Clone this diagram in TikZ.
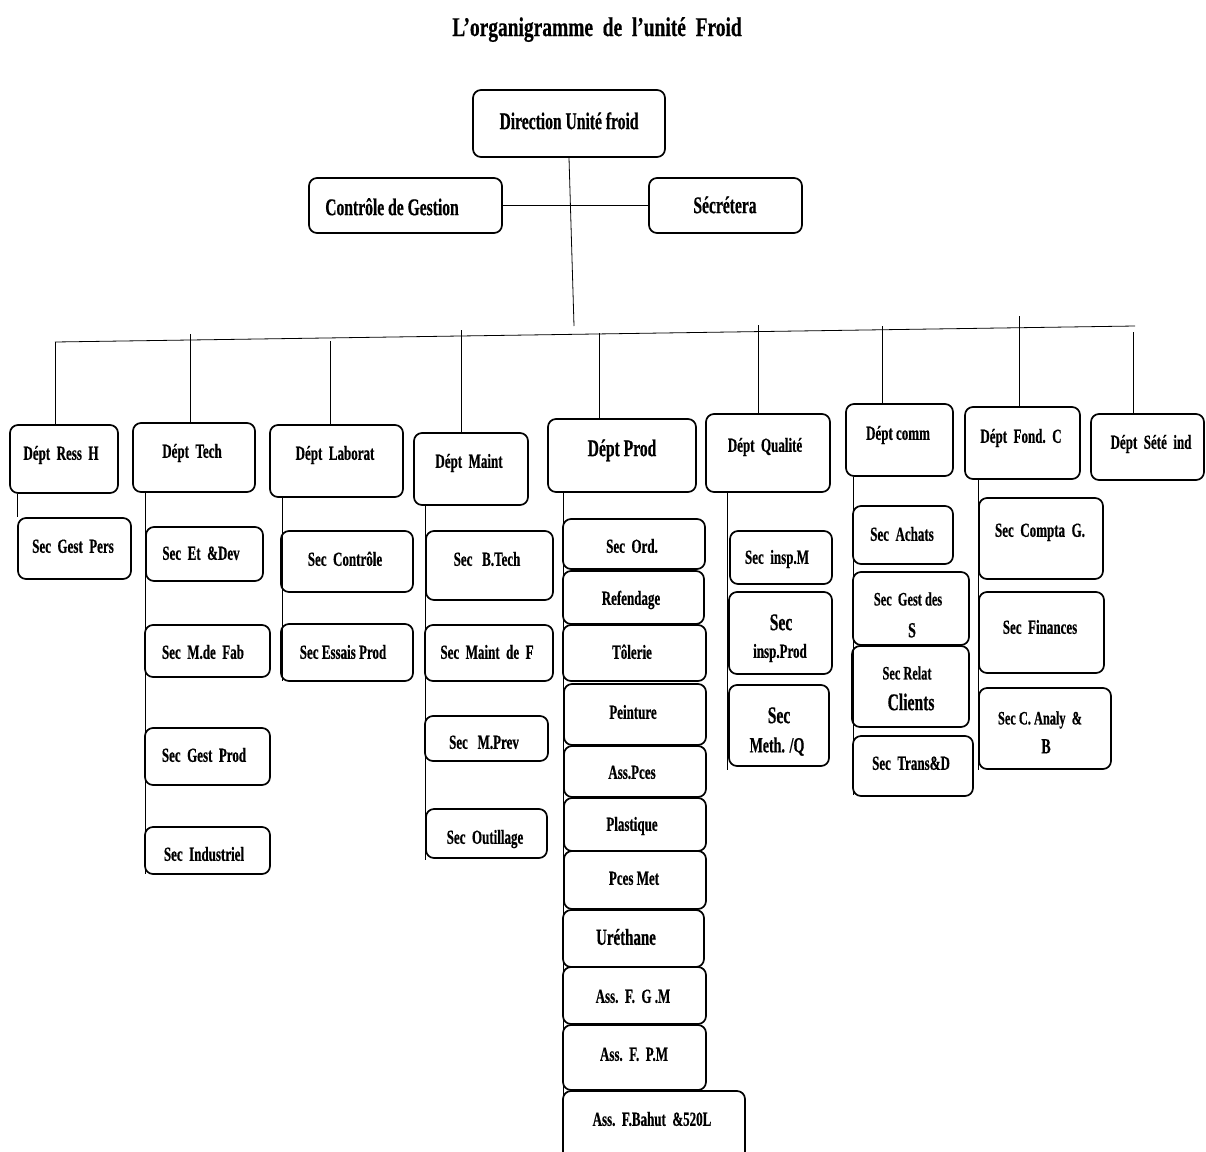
\documentclass[tikz,border=0pt]{standalone}
\usepackage{fontspec}
\newfontfamily\tnr[FakeStretch=0.65,BoldFeatures={FakeBold=0.5}]{Liberation Serif}
\newfontfamily\tnrT[FakeStretch=0.72,BoldFeatures={FakeBold=0.5}]{Liberation Serif}
% box from (x1,y1) to (x2,y2), pixel coordinates, y downwards
\newcommand\obox[5]{\node[obx,minimum width={(#4)-(#2)},minimum height={(#5)-(#3)}] (#1) at ({((#2)+(#4))/2},{((#3)+(#5))/2}) {};}
% label: [size]{name}{x}{y}{text}
\newcommand\olbl[5][20]{\node[lbl,font=\tnr\bfseries\fontsize{#1}{#1}\selectfont] (#2) at (#3,{(#4)+0.34*(#1)}) {#5};}
\begin{document}
\begin{tikzpicture}[x=1pt,y=-1pt,
  obx/.style={draw,line width=1.7pt,rounded corners=8pt,inner sep=0pt},
  lbl/.style={inner sep=0pt,anchor=base},
  link/.style={line width=0.8pt}]
\useasboundingbox[fill=white] (0,0) rectangle (1206,1151);

% title
\node[lbl,font=\tnrT\bfseries\fontsize{27}{27}\selectfont] (title) at (597,36) {L’organigramme\ \ de\ \ l’unité\ \ Froid};

% top level
\obox{dir}{473}{90}{665}{157} \olbl[24]{dir-t}{569}{121}{Direction Unité froid}
\obox{cg}{309}{178}{502}{233} \olbl[24]{cg-t}{392}{207}{Contrôle de Gestion}
\obox{sec}{649}{178}{802}{233} \olbl[24]{sec-t}{725}{205}{Sécrétera}

\draw[link] (cg.east) -- (sec.west);
\coordinate (hub) at (574,326);
\draw[link] (dir.south) -- (hub);
\coordinate (busL) at (55,342);
\coordinate (busR) at (1135,326);
\draw[link] (busL) -- (busR);

% departments
\obox{rh}{10}{425}{118}{493} \olbl{rh-t}{61}{453}{Dépt\ \ Ress\ \ H}
\obox{tech}{133}{423}{255}{492} \olbl{tech-t}{192}{451}{Dépt\ \ Tech}
\obox{lab}{270}{425}{403}{497} \olbl{lab-t}{335}{453}{Dépt\ \ Laborat}
\obox{mnt}{414}{433}{528}{505} \olbl{mnt-t}{469}{461}{Dépt\ \ Maint}
\obox{prod}{548}{419}{696}{492} \olbl[24]{prod-t}{622}{448}{Dépt Prod}
\obox{qual}{706}{414}{830}{492} \olbl{qual-t}{765}{445}{Dépt\ \ Qualité}
\obox{comm}{846}{404}{953}{476} \olbl{comm-t}{898}{433}{Dépt\ comm}
\obox{fond}{965}{407}{1080}{479} \olbl{fond-t}{1021}{436}{Dépt\ \ Fond.\ \ C}
\obox{sete}{1091}{414}{1204}{480} \olbl{sete-t}{1151}{442}{Dépt\ \ Sété\ \ ind}

% drops from the bus
\coordinate (d2) at (190,334);
\coordinate (d3) at (330,341);
\coordinate (d4) at (461,330);
\coordinate (d5) at (599,333);
\coordinate (d6) at (758,325);
\coordinate (d7) at (882,326);
\coordinate (d8) at (1019,316);
\coordinate (d9) at (1133,332);
\draw[link] (busL) -- (busL |- rh.north);
\draw[link] (d2) -- (d2 |- tech.north);
\draw[link] (d3) -- (d3 |- lab.north);
\draw[link] (d4) -- (d4 |- mnt.north);
\draw[link] (d5) -- (d5 |- prod.north);
\draw[link] (d6) -- (d6 |- qual.north);
\draw[link] (d7) -- (d7 |- comm.north);
\draw[link] (d8) -- (d8 |- fond.north);
\draw[link] (d9) -- (d9 |- sete.north);

% Ress H
\obox{gp}{18}{518}{131}{579} \olbl{gp-t}{73}{546}{Sec\ \ Gest\ \ Pers}
\draw[link] (gp.north west |- rh.south) -- (gp.north west);

% Tech
\obox{t1}{146}{527}{263}{581} \olbl{t1-t}{201}{553}{Sec\ \ Et\ \ \&Dev}
\obox{t2}{145}{625}{270}{677} \olbl{t2-t}{203}{652}{Sec\ \ M.de\ \ Fab}
\obox{t3}{145}{728}{270}{785} \olbl{t3-t}{204}{755}{Sec\ \ Gest\ \ Prod}
\obox{t4}{145}{827}{270}{874} \olbl{t4-t}{204}{854}{Sec\ \ Industriel}
\coordinate (tech-end) at (145,874);
\draw[link] (tech-end |- tech.south) -- (tech-end);

% Laborat
\obox{l1}{281}{531}{413}{592} \olbl{l1-t}{345}{559}{Sec\ \ Contrôle}
\obox{l2}{281}{624}{413}{681} \olbl{l2-t}{343}{652}{Sec Essais Prod}
\coordinate (lab-end) at (282,681);
\draw[link] (lab-end |- lab.south) -- (lab-end);

% Maint
\obox{m1}{426}{531}{553}{600} \olbl{m1-t}{487}{559}{Sec\ \ \ B.Tech}
\obox{m2}{425}{625}{553}{681} \olbl{m2-t}{487}{652}{Sec\ \ Maint\ \ de\ \ F}
\obox{m3}{425}{716}{548}{761} \olbl{m3-t}{484}{742}{Sec\ \ \ M.Prev}
\obox{m4}{426}{809}{547}{858} \olbl{m4-t}{485}{837}{Sec\ \ Outillage}
\coordinate (mnt-end) at (425,860);
\draw[link] (mnt-end |- mnt.south) -- (mnt-end);

% Prod
\obox{p1}{563}{519}{705}{569} \olbl{p1-t}{632}{546}{Sec\ \ Ord.}
\obox{p2}{563}{571}{704}{624} \olbl{p2-t}{631}{598}{Refendage}
\obox{p3}{563}{625}{706}{681} \olbl{p3-t}{632}{652}{Tôlerie}
\obox{p4}{564}{684}{706}{745} \olbl{p4-t}{633}{712}{Peinture}
\obox{p5}{564}{746}{706}{797} \olbl{p5-t}{632}{772}{Ass.Pces}
\obox{p6}{564}{798}{706}{851} \olbl{p6-t}{632}{824}{Plastique}
\obox{p7}{564}{851}{706}{909} \olbl{p7-t}{634}{878}{Pces Met}
\obox{p8}{563}{910}{704}{967} \olbl[23]{p8-t}{626}{937}{Uréthane}
\obox{p9}{563}{967}{706}{1024} \olbl{p9-t}{633}{996}{Ass.\ \ F.\ \ G\ .M}
\obox{p10}{563}{1025}{706}{1090} \olbl{p10-t}{634}{1054}{Ass.\ \ F.\ \ P.M}
\obox{p11}{563}{1091}{745}{1165} \olbl{p11-t}{652}{1119}{Ass.\ \ F.Bahut\ \ \&520L}
\coordinate (prod-end) at (563,1160);
\draw[link] (prod-end |- prod.south) -- (prod-end);

% Qualite
\obox{q1}{730}{531}{832}{584} \olbl{q1-t}{777}{557}{Sec\ \ insp.M}
\obox{q2}{729}{592}{832}{674} \olbl[24]{q2-t1}{781}{622}{Sec} \olbl{q2-t2}{780}{651}{insp.Prod}
\obox{q3}{729}{685}{829}{766} \olbl[24]{q3-t1}{779}{715}{Sec} \olbl[21.5]{q3-t2}{777}{745}{Meth. /Q}
\coordinate (qual-end) at (727,770);
\draw[link] (qual-end |- qual.south) -- (qual-end);

% comm
\obox{c1}{853}{506}{953}{564} \olbl{c1-t}{902}{534}{Sec\ \ Achats}
\obox{c2}{853}{572}{969}{645} \olbl[19]{c2-t1}{908}{599}{Sec\ \ Gest des} \olbl[21.5]{c2-t2}{912}{630}{S}
\obox{c3}{852}{646}{969}{727} \olbl[19]{c3-t1}{907}{673}{Sec Relat} \olbl[24]{c3-t2}{911}{702}{Clients}
\obox{c4}{853}{736}{973}{796} \olbl{c4-t}{911}{763}{Sec\ \ Trans\&D}
\coordinate (comm-end) at (853,795);
\draw[link] (comm-end |- comm.south) -- (comm-end);

% Fond. C
\obox{f1}{979}{498}{1103}{579} \olbl{f1-t}{1040}{530}{Sec\ \ Compta\ \ G.}
\obox{f2}{979}{592}{1104}{673} \olbl{f2-t}{1040}{627}{Sec\ \ Finances}
\obox{f3}{979}{688}{1111}{769} \olbl[19]{f3-t1}{1040}{718}{Sec C. Analy\ \ \&} \olbl[21.5]{f3-t2}{1046}{746}{B}
\coordinate (fond-end) at (978,770);
\draw[link] (fond-end |- fond.south) -- (fond-end);
\end{tikzpicture}
\end{document}
